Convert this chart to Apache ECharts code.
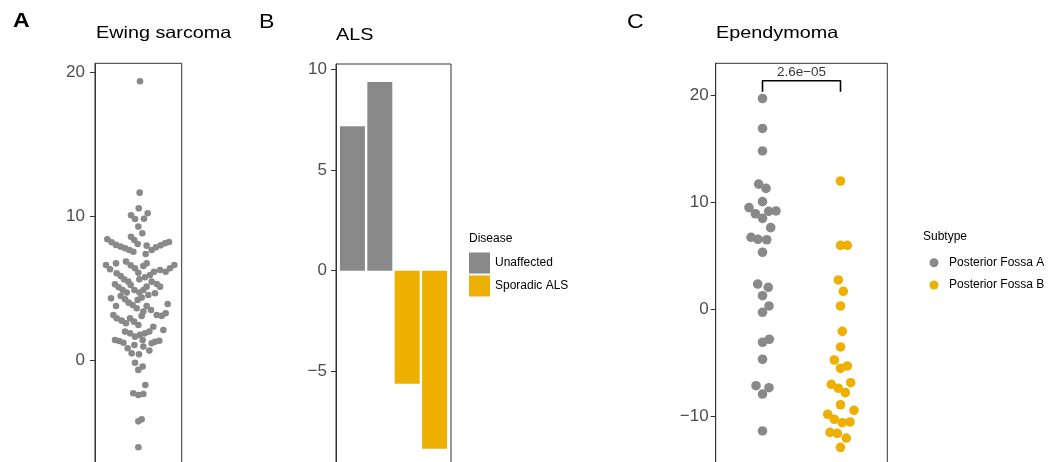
<!DOCTYPE html>
<html><head><meta charset="utf-8">
<script src="https://cdn.jsdelivr.net/npm/echarts@6/dist/echarts.min.js"></script>
<style>html,body{margin:0;padding:0;background:#fff}#c{width:1059px;height:462px}</style>
</head><body><div id="c"></div><script>
// ---- Panel A: Ewing sarcoma (beeswarm positions)
const ewingSwarmX = [1.023,1.018,1.005,0.899,1.129,0.954,1.078,1.0,1.055,0.898,0.944,0.991,
 0.571,0.631,0.691,0.756,0.816,0.876,
 1.424,1.369,1.309,1.244,1.184,1.115,1.101,0.931,
 0.553,0.608,0.691,0.829,0.894,0.954,1.0,1.069,1.115,1.498,1.438,1.378,1.300,1.217,1.161,1.092,1.014,0.700,0.756,0.802,0.862,
 0.677,0.728,0.783,0.839,0.894,0.945,1.014,1.069,1.115,1.184,1.254,1.300,1.230,1.138,1.046,0.991,
 0.622,0.691,0.756,0.816,0.866,0.922,0.977,1.115,1.175,1.254,1.323,1.378,1.406,1.046,1.069,0.654,0.700,0.769,0.829,0.885,0.940,1.0,
 1.346,1.207,1.152,1.092,1.023,0.954,0.885,0.816,0.677,0.733,0.793,0.852,0.908,1.009,1.069,1.152,1.230,1.290,1.184,0.945,1.060,
 0.954,1.0,1.060,1.097,0.930,1.0,1.069,1.0,1.046,1.0];
const ewingActivity = [19.35,11.62,10.53,10.05,10.19,9.79,9.81,9.26,8.80,8.56,8.33,8.05,
 8.38,8.17,7.99,7.87,7.75,7.64,
 8.19,8.10,7.96,7.82,7.64,7.94,7.36,7.52,
 6.60,6.30,6.71,6.83,6.57,6.37,6.06,6.53,6.71,6.60,6.37,6.13,6.25,6.13,5.90,5.74,5.60,6.02,5.83,5.60,5.44,
 5.25,5.05,4.86,4.68,5.21,4.86,4.68,4.86,5.09,5.44,5.28,5.09,4.63,4.51,4.33,4.17,
 4.28,3.75,4.44,4.21,3.98,3.82,3.59,3.75,3.47,3.12,3.06,3.24,3.89,3.06,3.36,3.12,2.89,2.73,2.55,2.89,2.66,2.43,
 2.08,2.31,1.97,1.85,1.74,1.62,1.85,1.97,1.39,1.32,1.20,0.81,0.46,0.39,0.93,0.65,1.27,1.34,1.16,1.04,1.39,
 -0.19,-0.69,-0.46,-1.74,-2.31,-2.43,-2.36,-4.26,-4.12,-6.06];
const ticksA = [0, 10, 20];

// ---- Panel B: ALS
const alsSamples = [1, 2, 3, 4];
const alsDisease = ['Unaffected', 'Unaffected', 'Sporadic ALS', 'Sporadic ALS'];
const alsTGFb = [7.16, 9.36, -5.61, -8.83];
const ticksB = [-10, -5, 0, 5, 10];

// ---- Panel C: Ependymoma
const pfaSwarmX = [1.0,1.0,1.0,0.951,1.045,1.0,0.827,0.908,1.0,1.079,1.173,1.105,0.853,0.942,1.054,1.0,
 0.938,1.074,1.0,1.083,1.0,1.087,1.0,1.0,0.917,1.083,1.0,1.0];
const pfaNFkB = [19.7,16.9,14.8,11.7,11.3,10.06,9.5,8.93,8.5,9.16,9.19,7.63,6.73,6.54,6.5,5.33,
 2.36,2.05,1.27,0.31,-0.28,-2.8,-3.08,-4.67,-7.14,-7.33,-7.92,-11.37];
const pfbSwarmX = [2.0,2.0,2.087,1.972,2.036,2.0,2.023,2.0,1.921,2.087,2.0,2.131,1.882,1.972,2.062,2.0,
 2.173,1.836,1.921,2.023,2.122,1.865,1.959,2.074,2.0];
const pfbNFkB = [11.99,5.98,5.98,2.74,1.68,0.31,-2.06,-3.52,-4.74,-5.3,-5.51,-6.86,-7.01,-7.38,-7.79,-8.92,
 -9.44,-9.81,-10.28,-10.6,-10.53,-11.5,-11.6,-12.03,-12.9];
const pValueLabel = '2.6e\u221205';
const bracketGroups = [1, 2];
const bracketY = [20.34, 21.36];
const ticksC = [-10, 0, 10, 20];

const GREY = '#898989', GOLD = '#EDB000';
const FONT = '"Liberation Sans", Arial, sans-serif';
const zip = (a, b) => a.map((v, i) => [v, b[i]]);
const minusFmt = v => String(v).replace('-', '\u2212');

function yAx(gi, min, max, ticks, margin, tickLen) {
  return {
    type: 'value', gridIndex: gi, min: min, max: max,
    axisLine: {show: true, lineStyle: {color: '#333', width: 1}},
    axisTick: {show: true, length: tickLen, lineStyle: {color: '#333'}, customValues: ticks},
    axisLabel: {color: '#4d4d4d', fontSize: 17, fontFamily: FONT, margin: margin, customValues: ticks, formatter: minusFmt},
    splitLine: {show: false}
  };
}
function xAx(gi, min, max) {
  return {type: 'value', gridIndex: gi, min: min, max: max, show: false, splitLine: {show: false}};
}
const gridBase = {show: true, borderColor: '#333', borderWidth: 1, backgroundColor: 'transparent', containLabel: false, outerBoundsMode: 'none'};

const barsUnaffected = [], barsALS = [];
alsSamples.forEach((s, i) => { (alsDisease[i] === 'Unaffected' ? barsUnaffected : barsALS).push([s, alsTGFb[i]]); });

function txt(x, y, text, size, opts) {
  return Object.assign({type: 'text', x: x, y: y, style: Object.assign({text: text, fontSize: size, fontFamily: FONT, fill: '#000', textVerticalAlign: 'middle'}, (opts && opts.style) || {})}, opts && opts.el || {});
}
const wide = s => ({el: {scaleX: s}});

const chart = echarts.init(document.getElementById('c'), null, {renderer: 'canvas'});
chart.setOption({
  animation: false,
  grid: [
    Object.assign({left: 95, top: 63.3, width: 86.7, height: 440.7}, gridBase),
    Object.assign({left: 336, top: 64, width: 115, height: 408.4}, gridBase),
    Object.assign({left: 715.7, top: 63.3, width: 171.6, height: 460}, gridBase)
  ],
  xAxis: [xAx(0, 0.4, 1.6), xAx(1, 0.4, 4.6), xAx(2, 0.4, 2.6)],
  yAxis: [yAx(0, -10, 20.6, ticksA, 10, 5), yAx(1, -10, 10.25, ticksB, 9, 5), yAx(2, -20, 22.99, ticksC, 7, 5)],
  legend: [
    {data: ['Unaffected', 'Sporadic ALS'], orient: 'vertical', left: 469, top: 252.5, padding: 0, itemGap: 2,
     itemWidth: 21, itemHeight: 21, icon: 'rect', textStyle: {fontSize: 12, fontFamily: FONT, color: '#000'}, selectedMode: false},
    {data: ['Posterior Fossa A', 'Posterior Fossa B'], orient: 'vertical', left: 929.5, top: 256.8, padding: 0, itemGap: 10.2,
     itemWidth: 20, itemHeight: 9, icon: 'circle', textStyle: {fontSize: 12, fontFamily: FONT, color: '#000'}, selectedMode: false}
  ],
  series: [
    {type: 'scatter', name: 'Ewing', xAxisIndex: 0, yAxisIndex: 0, data: zip(ewingSwarmX, ewingActivity),
     symbolSize: 6.6, itemStyle: {color: GREY, opacity: 1}, silent: true},
    {type: 'bar', name: 'Unaffected', xAxisIndex: 1, yAxisIndex: 1, data: barsUnaffected, barWidth: 25, barGap: '-100%',
     itemStyle: {color: GREY}, silent: true},
    {type: 'bar', name: 'Sporadic ALS', xAxisIndex: 1, yAxisIndex: 1, data: barsALS, barWidth: 25, barGap: '-100%',
     itemStyle: {color: GOLD}, silent: true},
    {type: 'scatter', name: 'Posterior Fossa A', xAxisIndex: 2, yAxisIndex: 2, data: zip(pfaSwarmX, pfaNFkB),
     symbolSize: 9.6, itemStyle: {color: GREY, opacity: 1}, silent: true},
    {type: 'scatter', name: 'Posterior Fossa B', xAxisIndex: 2, yAxisIndex: 2, data: zip(pfbSwarmX, pfbNFkB),
     symbolSize: 9.6, itemStyle: {color: GOLD, opacity: 1}, silent: true},
    {type: 'line', name: 'bracket', xAxisIndex: 2, yAxisIndex: 2,
     data: [[bracketGroups[0], bracketY[0]], [bracketGroups[0], bracketY[1]], [bracketGroups[1], bracketY[1]], [bracketGroups[1], bracketY[0]]],
     showSymbol: false, symbol: 'none', lineStyle: {color: '#000', width: 1.6}, silent: true},
    {type: 'scatter', name: 'pvalue', xAxisIndex: 2, yAxisIndex: 2,
     data: [[(bracketGroups[0] + bracketGroups[1]) / 2, bracketY[1]]], symbolSize: 0,
     label: {show: true, position: 'top', distance: 1, formatter: pValueLabel, fontSize: 13.5, fontFamily: FONT, color: '#000'}, silent: true}
  ],
  graphic: [
    txt(13, 21, 'A', 21, {style: {fontWeight: 'bold'}, el: {scaleX: 1.1}}),
    txt(96, 33.5, 'Ewing sarcoma', 16.5, wide(1.2)),
    txt(259, 22, 'B', 21, wide(1.1)),
    txt(336, 35, 'ALS', 16.5, wide(1.2)),
    txt(627, 22, 'C', 21, wide(1.1)),
    txt(716, 33.5, 'Ependymoma', 16.5, wide(1.2)),
    txt(37, 255, 'HH activity (log2odds)', 18, {style: {textAlign: 'center'}, el: {rotation: Math.PI / 2, originX: 37, originY: 255}}),
    txt(279, 267, 'TGF\u03B2 activity (log2odds)', 18, {style: {textAlign: 'center'}, el: {rotation: Math.PI / 2, originX: 279, originY: 267}}),
    txt(645, 266, 'NF\u03BAB activity (log2odds)', 18, {style: {textAlign: 'center'}, el: {rotation: Math.PI / 2, originX: 645, originY: 266}}),
    txt(469, 238.5, 'Disease', 12),
    txt(923, 237, 'Subtype', 12)
  ]
});
</script></body></html>
